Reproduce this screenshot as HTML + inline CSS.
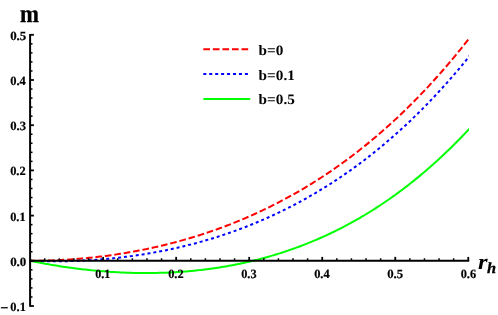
<!DOCTYPE html>
<html><head><meta charset="utf-8"><style>
html,body{margin:0;padding:0;background:#fff;}
body{width:498px;height:315px;overflow:hidden;font-family:"Liberation Serif",serif;}
svg{display:block;font-family:"Liberation Serif",serif;font-weight:bold;will-change:transform;text-rendering:geometricPrecision;}
</style></head><body>
<svg width="498" height="315" viewBox="0 0 498 315">
<rect width="498" height="315" fill="#fff"/>
<defs><clipPath id="pc"><rect x="0" y="0" width="468.9" height="315"/></clipPath></defs>
<g fill="none" stroke-width="2.0" stroke-linecap="butt" stroke-linejoin="round" clip-path="url(#pc)">
<path d="M30.10,260.80 L31.94,260.80 L33.78,260.79 L35.62,260.77 L37.46,260.75 L39.30,260.73 L41.15,260.70 L42.99,260.66 L44.83,260.62 L46.67,260.57 L48.51,260.51 L50.35,260.45 L52.19,260.39 L54.03,260.31 L55.87,260.24 L57.71,260.15 L59.56,260.06 L61.40,259.97 L63.24,259.87 L65.08,259.76 L66.92,259.65 L68.76,259.53 L70.60,259.41 L72.44,259.28 L74.28,259.14 L76.12,259.00 L77.97,258.85 L79.81,258.70 L81.65,258.54 L83.49,258.37 L85.33,258.20 L87.17,258.02 L89.01,257.84 L90.85,257.65 L92.69,257.46 L94.53,257.25 L96.37,257.05 L98.22,256.83 L100.06,256.61 L101.90,256.39 L103.74,256.16 L105.58,255.92 L107.42,255.68 L109.26,255.43 L111.10,255.17 L112.94,254.91 L114.78,254.64 L116.63,254.37 L118.47,254.09 L120.31,253.80 L122.15,253.51 L123.99,253.21 L125.83,252.90 L127.67,252.59 L129.51,252.27 L131.35,251.94 L133.19,251.61 L135.03,251.28 L136.88,250.93 L138.72,250.58 L140.56,250.22 L142.40,249.86 L144.24,249.49 L146.08,249.11 L147.92,248.73 L149.76,248.34 L151.60,247.94 L153.44,247.54 L155.29,247.13 L157.13,246.71 L158.97,246.29 L160.81,245.86 L162.65,245.42 L164.49,244.98 L166.33,244.52 L168.17,244.07 L170.01,243.60 L171.85,243.13 L173.70,242.65 L175.54,242.16 L177.38,241.67 L179.22,241.17 L181.06,240.66 L182.90,240.15 L184.74,239.62 L186.58,239.10 L188.42,238.56 L190.26,238.01 L192.10,237.46 L193.95,236.90 L195.79,236.34 L197.63,235.76 L199.47,235.18 L201.31,234.59 L203.15,234.00 L204.99,233.39 L206.83,232.78 L208.67,232.16 L210.51,231.53 L212.36,230.90 L214.20,230.25 L216.04,229.60 L217.88,228.94 L219.72,228.27 L221.56,227.60 L223.40,226.91 L225.24,226.22 L227.08,225.52 L228.92,224.81 L230.77,224.10 L232.61,223.37 L234.45,222.64 L236.29,221.90 L238.13,221.15 L239.97,220.39 L241.81,219.62 L243.65,218.85 L245.49,218.06 L247.33,217.27 L249.17,216.47 L251.02,215.65 L252.86,214.83 L254.70,214.01 L256.54,213.17 L258.38,212.32 L260.22,211.46 L262.06,210.60 L263.90,209.72 L265.74,208.84 L267.58,207.95 L269.43,207.05 L271.27,206.13 L273.11,205.21 L274.95,204.28 L276.79,203.34 L278.63,202.39 L280.47,201.43 L282.31,200.46 L284.15,199.48 L285.99,198.49 L287.84,197.49 L289.68,196.48 L291.52,195.46 L293.36,194.43 L295.20,193.39 L297.04,192.34 L298.88,191.28 L300.72,190.21 L302.56,189.13 L304.40,188.04 L306.24,186.93 L308.09,185.82 L309.93,184.70 L311.77,183.56 L313.61,182.42 L315.45,181.26 L317.29,180.09 L319.13,178.91 L320.97,177.72 L322.81,176.52 L324.65,175.31 L326.50,174.08 L328.34,172.85 L330.18,171.60 L332.02,170.34 L333.86,169.07 L335.70,167.79 L337.54,166.50 L339.38,165.19 L341.22,163.88 L343.06,162.55 L344.90,161.21 L346.75,159.85 L348.59,158.49 L350.43,157.11 L352.27,155.72 L354.11,154.32 L355.95,152.90 L357.79,151.47 L359.63,150.03 L361.47,148.58 L363.31,147.11 L365.16,145.63 L367.00,144.14 L368.84,142.63 L370.68,141.12 L372.52,139.58 L374.36,138.04 L376.20,136.48 L378.04,134.91 L379.88,133.32 L381.72,131.73 L383.57,130.11 L385.41,128.49 L387.25,126.85 L389.09,125.19 L390.93,123.52 L392.77,121.84 L394.61,120.14 L396.45,118.43 L398.29,116.71 L400.13,114.97 L401.97,113.21 L403.82,111.44 L405.66,109.66 L407.50,107.86 L409.34,106.04 L411.18,104.21 L413.02,102.37 L414.86,100.51 L416.70,98.64 L418.54,96.75 L420.38,94.84 L422.23,92.92 L424.07,90.98 L425.91,89.03 L427.75,87.06 L429.59,85.08 L431.43,83.07 L433.27,81.06 L435.11,79.02 L436.95,76.98 L438.79,74.91 L440.64,72.83 L442.48,70.73 L444.32,68.61 L446.16,66.48 L448.00,64.33 L449.84,62.16 L451.68,59.98 L453.52,57.78 L455.36,55.56 L457.20,53.33 L459.04,51.07 L460.89,48.80 L462.73,46.51 L464.57,44.21 L466.41,41.88 L468.25,39.54 L470.09,37.18 L471.93,34.80" stroke="#ff0000" stroke-dasharray="6.67 2.841" stroke-dashoffset="1.11"/>
<path d="M30.10,260.80 L31.94,260.87 L33.78,260.94 L35.62,261.00 L37.46,261.06 L39.30,261.11 L41.15,261.15 L42.99,261.19 L44.83,261.22 L46.67,261.25 L48.51,261.27 L50.35,261.29 L52.19,261.30 L54.03,261.30 L55.87,261.30 L57.71,261.29 L59.56,261.28 L61.40,261.26 L63.24,261.23 L65.08,261.20 L66.92,261.17 L68.76,261.12 L70.60,261.08 L72.44,261.02 L74.28,260.96 L76.12,260.90 L77.97,260.82 L79.81,260.75 L81.65,260.66 L83.49,260.57 L85.33,260.48 L87.17,260.38 L89.01,260.27 L90.85,260.16 L92.69,260.04 L94.53,259.91 L96.37,259.78 L98.22,259.64 L100.06,259.50 L101.90,259.35 L103.74,259.20 L105.58,259.03 L107.42,258.87 L109.26,258.69 L111.10,258.51 L112.94,258.33 L114.78,258.13 L116.63,257.94 L118.47,257.73 L120.31,257.52 L122.15,257.30 L123.99,257.08 L125.83,256.85 L127.67,256.61 L129.51,256.37 L131.35,256.12 L133.19,255.87 L135.03,255.61 L136.88,255.34 L138.72,255.06 L140.56,254.78 L142.40,254.49 L144.24,254.20 L146.08,253.90 L147.92,253.59 L149.76,253.28 L151.60,252.96 L153.44,252.63 L155.29,252.29 L157.13,251.95 L158.97,251.60 L160.81,251.25 L162.65,250.89 L164.49,250.52 L166.33,250.15 L168.17,249.76 L170.01,249.37 L171.85,248.98 L173.70,248.57 L175.54,248.16 L177.38,247.75 L179.22,247.32 L181.06,246.89 L182.90,246.45 L184.74,246.01 L186.58,245.55 L188.42,245.09 L190.26,244.62 L192.10,244.15 L193.95,243.66 L195.79,243.17 L197.63,242.68 L199.47,242.17 L201.31,241.66 L203.15,241.14 L204.99,240.61 L206.83,240.07 L208.67,239.53 L210.51,238.98 L212.36,238.42 L214.20,237.85 L216.04,237.27 L217.88,236.69 L219.72,236.10 L221.56,235.50 L223.40,234.89 L225.24,234.27 L227.08,233.65 L228.92,233.02 L230.77,232.38 L232.61,231.73 L234.45,231.07 L236.29,230.41 L238.13,229.73 L239.97,229.05 L241.81,228.36 L243.65,227.66 L245.49,226.95 L247.33,226.23 L249.17,225.50 L251.02,224.77 L252.86,224.03 L254.70,223.27 L256.54,222.51 L258.38,221.74 L260.22,220.96 L262.06,220.17 L263.90,219.37 L265.74,218.56 L267.58,217.75 L269.43,216.92 L271.27,216.08 L273.11,215.24 L274.95,214.38 L276.79,213.52 L278.63,212.64 L280.47,211.76 L282.31,210.87 L284.15,209.96 L285.99,209.05 L287.84,208.13 L289.68,207.19 L291.52,206.25 L293.36,205.29 L295.20,204.33 L297.04,203.36 L298.88,202.37 L300.72,201.38 L302.56,200.37 L304.40,199.35 L306.24,198.33 L308.09,197.29 L309.93,196.24 L311.77,195.18 L313.61,194.11 L315.45,193.03 L317.29,191.94 L319.13,190.84 L320.97,189.72 L322.81,188.60 L324.65,187.46 L326.50,186.31 L328.34,185.15 L330.18,183.98 L332.02,182.80 L333.86,181.61 L335.70,180.40 L337.54,179.18 L339.38,177.95 L341.22,176.71 L343.06,175.46 L344.90,174.19 L346.75,172.92 L348.59,171.63 L350.43,170.33 L352.27,169.01 L354.11,167.68 L355.95,166.34 L357.79,164.99 L359.63,163.63 L361.47,162.25 L363.31,160.86 L365.16,159.46 L367.00,158.04 L368.84,156.61 L370.68,155.17 L372.52,153.71 L374.36,152.24 L376.20,150.76 L378.04,149.27 L379.88,147.76 L381.72,146.23 L383.57,144.70 L385.41,143.15 L387.25,141.58 L389.09,140.00 L390.93,138.41 L392.77,136.80 L394.61,135.18 L396.45,133.55 L398.29,131.90 L400.13,130.23 L401.97,128.55 L403.82,126.86 L405.66,125.15 L407.50,123.43 L409.34,121.69 L411.18,119.94 L413.02,118.17 L414.86,116.39 L416.70,114.59 L418.54,112.77 L420.38,110.94 L422.23,109.10 L424.07,107.24 L425.91,105.36 L427.75,103.47 L429.59,101.56 L431.43,99.63 L433.27,97.69 L435.11,95.74 L436.95,93.76 L438.79,91.77 L440.64,89.77 L442.48,87.74 L444.32,85.70 L446.16,83.65 L448.00,81.57 L449.84,79.48 L451.68,77.38 L453.52,75.25 L455.36,73.11 L457.20,70.95 L459.04,68.77 L460.89,66.58 L462.73,64.36 L464.57,62.13 L466.41,59.88 L468.25,57.62 L470.09,55.33 L471.93,53.03" stroke="#0000ff" stroke-dasharray="3.0 2.94" stroke-dashoffset="1.0"/>
<path d="M30.10,260.80 L31.94,261.18 L33.78,261.55 L35.62,261.91 L37.46,262.27 L39.30,262.63 L41.15,262.98 L42.99,263.32 L44.83,263.65 L46.67,263.99 L48.51,264.31 L50.35,264.63 L52.19,264.94 L54.03,265.25 L55.87,265.55 L57.71,265.85 L59.56,266.14 L61.40,266.43 L63.24,266.70 L65.08,266.98 L66.92,267.24 L68.76,267.51 L70.60,267.76 L72.44,268.01 L74.28,268.25 L76.12,268.49 L77.97,268.72 L79.81,268.95 L81.65,269.17 L83.49,269.39 L85.33,269.59 L87.17,269.80 L89.01,269.99 L90.85,270.18 L92.69,270.37 L94.53,270.55 L96.37,270.72 L98.22,270.89 L100.06,271.05 L101.90,271.20 L103.74,271.35 L105.58,271.49 L107.42,271.63 L109.26,271.76 L111.10,271.88 L112.94,272.00 L114.78,272.11 L116.63,272.22 L118.47,272.32 L120.31,272.41 L122.15,272.50 L123.99,272.58 L125.83,272.65 L127.67,272.72 L129.51,272.78 L131.35,272.83 L133.19,272.88 L135.03,272.92 L136.88,272.96 L138.72,272.99 L140.56,273.01 L142.40,273.03 L144.24,273.04 L146.08,273.04 L147.92,273.04 L149.76,273.03 L151.60,273.01 L153.44,272.99 L155.29,272.96 L157.13,272.92 L158.97,272.87 L160.81,272.82 L162.65,272.77 L164.49,272.70 L166.33,272.63 L168.17,272.55 L170.01,272.47 L171.85,272.37 L173.70,272.27 L175.54,272.17 L177.38,272.05 L179.22,271.93 L181.06,271.81 L182.90,271.67 L184.74,271.53 L186.58,271.38 L188.42,271.22 L190.26,271.06 L192.10,270.89 L193.95,270.71 L195.79,270.52 L197.63,270.33 L199.47,270.12 L201.31,269.91 L203.15,269.70 L204.99,269.47 L206.83,269.24 L208.67,269.00 L210.51,268.75 L212.36,268.50 L214.20,268.23 L216.04,267.96 L217.88,267.68 L219.72,267.39 L221.56,267.10 L223.40,266.79 L225.24,266.48 L227.08,266.16 L228.92,265.83 L230.77,265.50 L232.61,265.15 L234.45,264.80 L236.29,264.44 L238.13,264.07 L239.97,263.69 L241.81,263.30 L243.65,262.90 L245.49,262.50 L247.33,262.08 L249.17,261.66 L251.02,261.23 L252.86,260.79 L254.70,260.34 L256.54,259.88 L258.38,259.42 L260.22,258.94 L262.06,258.45 L263.90,257.96 L265.74,257.46 L267.58,256.94 L269.43,256.42 L271.27,255.89 L273.11,255.35 L274.95,254.80 L276.79,254.23 L278.63,253.66 L280.47,253.08 L282.31,252.49 L284.15,251.89 L285.99,251.28 L287.84,250.66 L289.68,250.03 L291.52,249.39 L293.36,248.74 L295.20,248.08 L297.04,247.41 L298.88,246.73 L300.72,246.04 L302.56,245.34 L304.40,244.63 L306.24,243.90 L308.09,243.17 L309.93,242.43 L311.77,241.67 L313.61,240.91 L315.45,240.13 L317.29,239.34 L319.13,238.54 L320.97,237.73 L322.81,236.91 L324.65,236.08 L326.50,235.23 L328.34,234.38 L330.18,233.51 L332.02,232.63 L333.86,231.74 L335.70,230.84 L337.54,229.93 L339.38,229.00 L341.22,228.06 L343.06,227.11 L344.90,226.15 L346.75,225.18 L348.59,224.19 L350.43,223.19 L352.27,222.18 L354.11,221.16 L355.95,220.13 L357.79,219.08 L359.63,218.02 L361.47,216.94 L363.31,215.86 L365.16,214.76 L367.00,213.64 L368.84,212.52 L370.68,211.38 L372.52,210.23 L374.36,209.06 L376.20,207.88 L378.04,206.69 L379.88,205.49 L381.72,204.27 L383.57,203.04 L385.41,201.79 L387.25,200.53 L389.09,199.25 L390.93,197.96 L392.77,196.66 L394.61,195.34 L396.45,194.01 L398.29,192.67 L400.13,191.31 L401.97,189.93 L403.82,188.54 L405.66,187.14 L407.50,185.72 L409.34,184.28 L411.18,182.83 L413.02,181.37 L414.86,179.89 L416.70,178.39 L418.54,176.88 L420.38,175.36 L422.23,173.82 L424.07,172.26 L425.91,170.69 L427.75,169.10 L429.59,167.49 L431.43,165.87 L433.27,164.24 L435.11,162.58 L436.95,160.91 L438.79,159.23 L440.64,157.52 L442.48,155.80 L444.32,154.07 L446.16,152.32 L448.00,150.55 L449.84,148.76 L451.68,146.96 L453.52,145.13 L455.36,143.30 L457.20,141.44 L459.04,139.57 L460.89,137.68 L462.73,135.77 L464.57,133.84 L466.41,131.90 L468.25,129.93 L470.09,127.95 L471.93,125.95" stroke="#00ff00"/>
</g>
<g stroke="#000" stroke-width="2.0" fill="none">
<line x1="30.10" y1="34.00" x2="30.10" y2="306.80"/>
<line x1="29.20" y1="260.80" x2="469.18" y2="260.80"/>
</g>
<g stroke="#000" stroke-width="1.5">
<line x1="30.10" y1="306.00" x2="33.90" y2="306.00" stroke-width="1.8"/>
<line x1="30.10" y1="296.96" x2="32.50" y2="296.96"/>
<line x1="30.10" y1="287.92" x2="32.50" y2="287.92"/>
<line x1="30.10" y1="278.88" x2="32.50" y2="278.88"/>
<line x1="30.10" y1="269.84" x2="32.50" y2="269.84"/>
<line x1="30.10" y1="260.80" x2="33.90" y2="260.80" stroke-width="1.8"/>
<line x1="30.10" y1="251.76" x2="32.50" y2="251.76"/>
<line x1="30.10" y1="242.72" x2="32.50" y2="242.72"/>
<line x1="30.10" y1="233.68" x2="32.50" y2="233.68"/>
<line x1="30.10" y1="224.64" x2="32.50" y2="224.64"/>
<line x1="30.10" y1="215.60" x2="33.90" y2="215.60" stroke-width="1.8"/>
<line x1="30.10" y1="206.56" x2="32.50" y2="206.56"/>
<line x1="30.10" y1="197.52" x2="32.50" y2="197.52"/>
<line x1="30.10" y1="188.48" x2="32.50" y2="188.48"/>
<line x1="30.10" y1="179.44" x2="32.50" y2="179.44"/>
<line x1="30.10" y1="170.40" x2="33.90" y2="170.40" stroke-width="1.8"/>
<line x1="30.10" y1="161.36" x2="32.50" y2="161.36"/>
<line x1="30.10" y1="152.32" x2="32.50" y2="152.32"/>
<line x1="30.10" y1="143.28" x2="32.50" y2="143.28"/>
<line x1="30.10" y1="134.24" x2="32.50" y2="134.24"/>
<line x1="30.10" y1="125.20" x2="33.90" y2="125.20" stroke-width="1.8"/>
<line x1="30.10" y1="116.16" x2="32.50" y2="116.16"/>
<line x1="30.10" y1="107.12" x2="32.50" y2="107.12"/>
<line x1="30.10" y1="98.08" x2="32.50" y2="98.08"/>
<line x1="30.10" y1="89.04" x2="32.50" y2="89.04"/>
<line x1="30.10" y1="80.00" x2="33.90" y2="80.00" stroke-width="1.8"/>
<line x1="30.10" y1="70.96" x2="32.50" y2="70.96"/>
<line x1="30.10" y1="61.92" x2="32.50" y2="61.92"/>
<line x1="30.10" y1="52.88" x2="32.50" y2="52.88"/>
<line x1="30.10" y1="43.84" x2="32.50" y2="43.84"/>
<line x1="30.10" y1="34.80" x2="33.90" y2="34.80" stroke-width="1.8"/>
<line x1="44.71" y1="260.80" x2="44.71" y2="258.30"/>
<line x1="59.31" y1="260.80" x2="59.31" y2="258.30"/>
<line x1="73.92" y1="260.80" x2="73.92" y2="258.30"/>
<line x1="88.52" y1="260.80" x2="88.52" y2="258.30"/>
<line x1="103.13" y1="260.80" x2="103.13" y2="256.90" stroke-width="1.8"/>
<line x1="117.74" y1="260.80" x2="117.74" y2="258.30"/>
<line x1="132.34" y1="260.80" x2="132.34" y2="258.30"/>
<line x1="146.95" y1="260.80" x2="146.95" y2="258.30"/>
<line x1="161.55" y1="260.80" x2="161.55" y2="258.30"/>
<line x1="176.16" y1="260.80" x2="176.16" y2="256.90" stroke-width="1.8"/>
<line x1="190.77" y1="260.80" x2="190.77" y2="258.30"/>
<line x1="205.37" y1="260.80" x2="205.37" y2="258.30"/>
<line x1="219.98" y1="260.80" x2="219.98" y2="258.30"/>
<line x1="234.58" y1="260.80" x2="234.58" y2="258.30"/>
<line x1="249.19" y1="260.80" x2="249.19" y2="256.90" stroke-width="1.8"/>
<line x1="263.80" y1="260.80" x2="263.80" y2="258.30"/>
<line x1="278.40" y1="260.80" x2="278.40" y2="258.30"/>
<line x1="293.01" y1="260.80" x2="293.01" y2="258.30"/>
<line x1="307.61" y1="260.80" x2="307.61" y2="258.30"/>
<line x1="322.22" y1="260.80" x2="322.22" y2="256.90" stroke-width="1.8"/>
<line x1="336.83" y1="260.80" x2="336.83" y2="258.30"/>
<line x1="351.43" y1="260.80" x2="351.43" y2="258.30"/>
<line x1="366.04" y1="260.80" x2="366.04" y2="258.30"/>
<line x1="380.64" y1="260.80" x2="380.64" y2="258.30"/>
<line x1="395.25" y1="260.80" x2="395.25" y2="256.90" stroke-width="1.8"/>
<line x1="409.86" y1="260.80" x2="409.86" y2="258.30"/>
<line x1="424.46" y1="260.80" x2="424.46" y2="258.30"/>
<line x1="439.07" y1="260.80" x2="439.07" y2="258.30"/>
<line x1="453.67" y1="260.80" x2="453.67" y2="258.30"/>
<line x1="468.28" y1="260.80" x2="468.28" y2="256.90" stroke-width="1.8"/>
</g>
<g fill="#000">
<text transform="translate(10.35,310.90) scale(0.985,1)" font-size="12.60px" text-anchor="start" stroke="#000" stroke-width="0.2">0.1</text>
<line x1="0.9" y1="307.75" x2="7.8" y2="307.75" stroke="#000" stroke-width="1.25"/>
<text transform="translate(10.13,265.70) scale(1.031,1)" font-size="12.60px" text-anchor="start" stroke="#000" stroke-width="0.2">0.0</text>
<text transform="translate(10.16,220.60) scale(0.978,1)" font-size="12.60px" text-anchor="start" stroke="#000" stroke-width="0.2">0.1</text>
<text transform="translate(10.15,175.30) scale(0.988,1)" font-size="12.60px" text-anchor="start" stroke="#000" stroke-width="0.2">0.2</text>
<text transform="translate(10.14,130.10) scale(1.006,1)" font-size="12.60px" text-anchor="start" stroke="#000" stroke-width="0.2">0.3</text>
<text transform="translate(10.15,84.95) scale(0.994,1)" font-size="12.60px" text-anchor="start" stroke="#000" stroke-width="0.2">0.4</text>
<text transform="translate(10.13,39.75) scale(1.027,1)" font-size="12.60px" text-anchor="start" stroke="#000" stroke-width="0.2">0.5</text>
<text transform="translate(95.17,277.50) scale(0.958,1)" font-size="12.60px" text-anchor="start" stroke="#000" stroke-width="0.2">0.1</text>
<text transform="translate(168.16,277.50) scale(0.981,1)" font-size="12.60px" text-anchor="start" stroke="#000" stroke-width="0.2">0.2</text>
<text transform="translate(241.16,277.50) scale(0.979,1)" font-size="12.60px" text-anchor="start" stroke="#000" stroke-width="0.2">0.3</text>
<text transform="translate(314.15,277.50) scale(0.987,1)" font-size="12.60px" text-anchor="start" stroke="#000" stroke-width="0.2">0.4</text>
<text transform="translate(387.14,277.50) scale(1.017,1)" font-size="12.60px" text-anchor="start" stroke="#000" stroke-width="0.2">0.5</text>
<text transform="translate(460.66,277.50) scale(0.979,1)" font-size="12.60px" text-anchor="start" stroke="#000" stroke-width="0.2">0.6</text>
<text transform="translate(20.00,22.10) scale(0.905,1)" font-size="25.10px" text-anchor="start" stroke="#000" stroke-width="0.35">m</text>
<text transform="translate(477.90,268.50) scale(1.120,1)" font-size="22.00px" text-anchor="start" font-style="italic">r</text>
<text transform="translate(486.90,272.50) scale(1.050,1)" font-size="15.60px" text-anchor="start" font-style="italic" stroke="#000" stroke-width="0.3">h</text>
</g>
<g fill="none" stroke-width="2.0">
<line x1="203.3" y1="49.2" x2="248.3" y2="49.2" stroke="#ff0000" stroke-dasharray="6.7 2.85"/>
<line x1="203.3" y1="74.05" x2="248.3" y2="74.05" stroke="#0000ff" stroke-dasharray="3.0 2.94"/>
<line x1="203.4" y1="98.95" x2="250.2" y2="98.95" stroke="#00ff00"/>
</g>
<g fill="#000">
<text transform="translate(258.60,54.80) scale(1.060,1)" font-size="14.40px" text-anchor="start">b=0</text>
<text transform="translate(258.60,79.60) scale(1.060,1)" font-size="14.40px" text-anchor="start">b=0.1</text>
<text transform="translate(258.60,104.30) scale(1.060,1)" font-size="14.40px" text-anchor="start">b=0.5</text>
</g>
</svg>
</body></html>
